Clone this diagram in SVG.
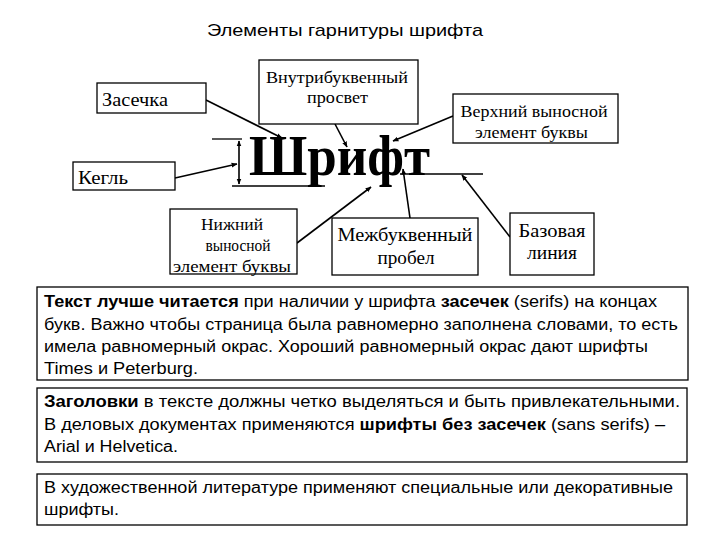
<svg xmlns="http://www.w3.org/2000/svg" width="720" height="540" viewBox="0 0 720 540">
<style>
.box{fill:#fff;stroke:#000;stroke-width:1.3}
.lbl{font-family:"Liberation Serif","Times New Roman",serif;fill:#000}
.sans{font-family:"Liberation Sans",Arial,sans-serif;fill:#000;font-size:16px}
.ln{stroke:#000;stroke-width:1.3;fill:none}
.ar{stroke:#000;stroke-width:1.6;fill:none;marker-end:url(#ah)}
.b{font-weight:bold}
</style>
<defs>
<marker id="ah" viewBox="0 0 10 10" refX="9" refY="5" markerWidth="6" markerHeight="6" orient="auto-start-reverse" markerUnits="userSpaceOnUse">
<path d="M0,1 L10,5 L0,9 Z" fill="#000"/>
</marker>
</defs>
<rect width="720" height="540" fill="#fff"/>
<text id="title" x="345" y="36" text-anchor="middle" class="sans" style="font-size:17px" textLength="276" lengthAdjust="spacingAndGlyphs">Элементы гарнитуры шрифта</text>

<g id="shrift">
<text x="249" y="175" class="lbl" style="font-size:56px;font-weight:bold" textLength="181" lengthAdjust="spacingAndGlyphs">Шрифт</text>
</g>

<g id="connectors">
<line class="ln" x1="212" y1="139" x2="242" y2="139"/>
<line class="ln" x1="232" y1="186" x2="325" y2="186"/>
<line class="ln" x1="400" y1="174" x2="483" y2="174"/>
<line x1="239" y1="141" x2="239" y2="184" stroke="#000" stroke-width="1.6" marker-start="url(#ah)" marker-end="url(#ah)"/>
<line class="ar" x1="206" y1="100" x2="282" y2="138"/>
<line class="ar" x1="175" y1="178" x2="237" y2="164"/>
<line class="ar" x1="335" y1="124" x2="347" y2="147"/>
<line class="ar" x1="453" y1="116" x2="393" y2="141"/>
<line class="ar" x1="297" y1="243" x2="371" y2="187"/>
<line class="ar" x1="410" y1="218" x2="403" y2="169"/>
<line class="ar" x1="510" y1="237" x2="462" y2="175"/>
</g>

<g id="zasechka">
<rect class="box" x="97" y="83" width="109" height="30"/>
<text x="102" y="106" class="lbl" font-size="19" textLength="66" lengthAdjust="spacingAndGlyphs">Засечка</text>
</g>
<g id="kegl">
<rect class="box" x="73" y="162" width="102" height="28"/>
<text x="78" y="184" class="lbl" font-size="19" textLength="50" lengthAdjust="spacingAndGlyphs">Кегль</text>
</g>
<g id="vnutri">
<rect class="box" x="259" y="60" width="159" height="64"/>
<text x="337" y="83" class="lbl" font-size="17" text-anchor="middle" textLength="142" lengthAdjust="spacingAndGlyphs">Внутрибуквенный</text>
<text x="337.5" y="103" class="lbl" font-size="17" text-anchor="middle" textLength="61" lengthAdjust="spacingAndGlyphs">просвет</text>
</g>
<g id="verhniy">
<rect class="box" x="453" y="94" width="165" height="49"/>
<text x="534" y="117" class="lbl" font-size="17" text-anchor="middle" textLength="147" lengthAdjust="spacingAndGlyphs">Верхний выносной</text>
<text x="531.5" y="138" class="lbl" font-size="17" text-anchor="middle" textLength="113" lengthAdjust="spacingAndGlyphs">элемент буквы</text>
</g>
<g id="nizhniy">
<rect class="box" x="170" y="209" width="127" height="65"/>
<text x="232" y="230" class="lbl" font-size="17" text-anchor="middle" textLength="62" lengthAdjust="spacingAndGlyphs">Нижний</text>
<text x="238" y="251" class="lbl" font-size="17" text-anchor="middle" textLength="65" lengthAdjust="spacingAndGlyphs">выносной</text>
<text x="232" y="272" class="lbl" font-size="17" text-anchor="middle" textLength="118" lengthAdjust="spacingAndGlyphs">элемент буквы</text>
</g>
<g id="mezhbukv">
<rect class="box" x="332" y="218" width="146" height="57"/>
<text x="405" y="241" class="lbl" font-size="19" text-anchor="middle" textLength="135" lengthAdjust="spacingAndGlyphs">Межбуквенный</text>
<text x="406" y="264" class="lbl" font-size="19" text-anchor="middle" textLength="57" lengthAdjust="spacingAndGlyphs">пробел</text>
</g>
<g id="bazovaya">
<rect class="box" x="510" y="213" width="84" height="62"/>
<text x="552" y="237" class="lbl" font-size="19" text-anchor="middle" textLength="67" lengthAdjust="spacingAndGlyphs">Базовая</text>
<text x="552" y="259" class="lbl" font-size="19" text-anchor="middle" textLength="50" lengthAdjust="spacingAndGlyphs">линия</text>
</g>

<g id="text1">
<rect class="box" x="37" y="287" width="651" height="93"/>
<text x="44" y="307" class="sans" textLength="613" lengthAdjust="spacingAndGlyphs"><tspan class="b">Текст лучше читается</tspan> при наличии у шрифта <tspan class="b">засечек</tspan> (serifs) на концах</text>
<text x="44" y="330" class="sans" textLength="634" lengthAdjust="spacingAndGlyphs">букв. Важно чтобы страница была равномерно заполнена словами, то есть</text>
<text x="44" y="352" class="sans" textLength="604" lengthAdjust="spacingAndGlyphs">имела равномерный окрас. Хороший равномерный окрас дают шрифты</text>
<text x="44" y="374" class="sans" textLength="154" lengthAdjust="spacingAndGlyphs">Times и Peterburg.</text>
</g>
<g id="text2">
<rect class="box" x="37" y="388" width="650" height="74"/>
<text x="44" y="407" class="sans" textLength="636" lengthAdjust="spacingAndGlyphs"><tspan class="b">Заголовки</tspan> в тексте должны четко выделяться и быть  привлекательными.</text>
<text x="44" y="430" class="sans" textLength="621" lengthAdjust="spacingAndGlyphs">В деловых документах применяются <tspan class="b">шрифты без засечек</tspan> (sans serifs) –</text>
<text x="44" y="452" class="sans" textLength="134" lengthAdjust="spacingAndGlyphs">Arial и Helvetica.</text>
</g>
<g id="text3">
<rect class="box" x="37" y="474" width="650" height="51"/>
<text x="44" y="493" class="sans" textLength="629" lengthAdjust="spacingAndGlyphs">В художественной литературе применяют специальные или декоративные</text>
<text x="44" y="515" class="sans" textLength="75" lengthAdjust="spacingAndGlyphs">шрифты.</text>
</g>
</svg>
